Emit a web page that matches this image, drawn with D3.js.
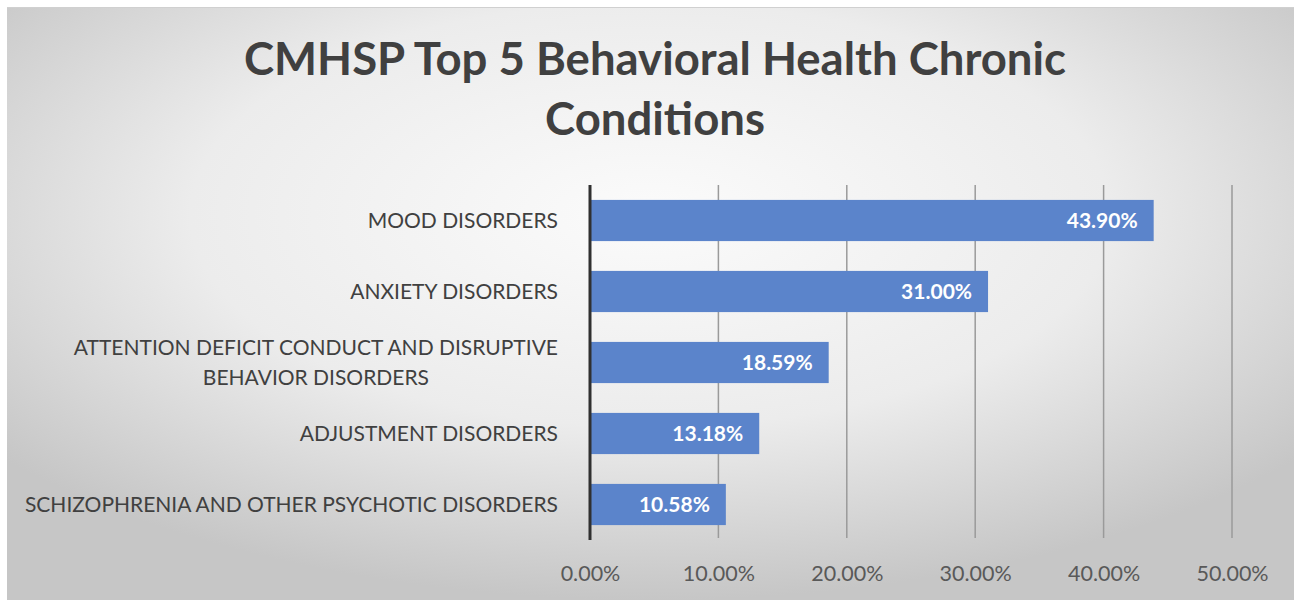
<!DOCTYPE html>
<html>
<head>
<meta charset="utf-8">
<script src="https://cdn.jsdelivr.net/npm/d3@7"></script>
<style>
  body { margin: 0; background: #fff; }
  text { font-family: Lato, "Open Sans", sans-serif; }
</style>
</head>
<body>
<div id="chart"></div>
<script>
// data
const titleLines = ["CMHSP Top 5 Behavioral Health Chronic", "Conditions"];
const categories = [
  ["MOOD DISORDERS"],
  ["ANXIETY DISORDERS"],
  ["ATTENTION DEFICIT CONDUCT AND DISRUPTIVE", "BEHAVIOR DISORDERS"],
  ["ADJUSTMENT DISORDERS"],
  ["SCHIZOPHRENIA AND OTHER PSYCHOTIC DISORDERS"]
];
const values = [0.439, 0.31, 0.1859, 0.1318, 0.1058];
const tickValues = [0, 0.1, 0.2, 0.3, 0.4, 0.5];

const width = 1294, height = 600;

const svg = d3.select("#chart").append("svg")
  .attr("width", width)
  .attr("height", height);

// radial background like the office chart
const defs = svg.append("defs");
const grad = defs.append("radialGradient")
  .attr("id", "bg")
  .attr("cx", "50%").attr("cy", "35%").attr("r", "65%");
grad.append("stop").attr("offset", "0%").attr("stop-color", "#fbfbfb");
grad.append("stop").attr("offset", "55%").attr("stop-color", "#ececec");
grad.append("stop").attr("offset", "100%").attr("stop-color", "#c6c6c6");

svg.append("rect")
  .attr("x", 7).attr("y", 7)
  .attr("width", width - 7).attr("height", height - 7)
  .attr("fill", "url(#bg)");
svg.append("line")
  .attr("x1", 7).attr("x2", width).attr("y1", 7.5).attr("y2", 7.5)
  .attr("stroke", "#d0d0d0");

// title
svg.append("g").selectAll("text")
  .data(titleLines)
  .join("text")
  .attr("x", 655)
  .attr("y", (d, i) => 75 + i * 60)
  .attr("text-anchor", "middle")
  .attr("fill", "#404040")
  .style("font-size", "45.5px")
  .style("font-weight", "bold")
  .text(d => d);

// scales
const x = d3.scaleLinear().domain([0, 0.5]).range([590, 1232]);
const y = d3.scaleBand()
  .domain(d3.range(categories.length))
  .range([185, 540])
  .paddingInner(0.42)
  .paddingOuter(0.21);

// gridlines
svg.append("g").selectAll("line")
  .data(tickValues.slice(1))
  .join("line")
  .attr("x1", d => x(d)).attr("x2", d => x(d))
  .attr("y1", 185).attr("y2", 538)
  .attr("stroke", "#9a9a9a")
  .attr("stroke-width", 1.5);

// bars
svg.append("g").selectAll("rect")
  .data(values)
  .join("rect")
  .attr("x", x(0))
  .attr("y", (d, i) => y(i))
  .attr("width", d => x(d) - x(0))
  .attr("height", y.bandwidth())
  .attr("fill", "#5b84cb");

// value labels
svg.append("g").selectAll("text")
  .data(values)
  .join("text")
  .attr("x", d => x(d) - 16)
  .attr("y", (d, i) => y(i) + y.bandwidth() / 2)
  .attr("dy", "0.35em")
  .attr("text-anchor", "end")
  .attr("fill", "#ffffff")
  .style("font-size", "21px")
  .style("font-weight", "bold")
  .text(d => d3.format(".2%")(d));

// zero axis line
svg.append("line")
  .attr("x1", x(0)).attr("x2", x(0))
  .attr("y1", 185).attr("y2", 540)
  .attr("stroke", "#303030")
  .attr("stroke-width", 3);

// category labels (multi-line ones are centred on each other, block right-aligned)
const catG = svg.append("g").selectAll("g")
  .data(categories)
  .join("g")
  .attr("transform", (d, i) => `translate(0,${y(i) + y.bandwidth() / 2})`);

catG.each(function(lines) {
  const g = d3.select(this);
  const n = lines.length;
  const texts = g.selectAll("text")
    .data(lines)
    .join("text")
    .attr("y", (d, i) => (i - (n - 1) / 2) * 30)
    .attr("dy", "0.35em")
    .attr("fill", "#404040")
    .style("font-size", "21px")
    .text(d => d);
  const widths = [];
  texts.each(function() { widths.push(this.getComputedTextLength()); });
  const maxW = d3.max(widths);
  const right = 558;
  texts.attr("x", right - maxW / 2).attr("text-anchor", "middle");
});

// x axis tick labels
const xAxis = d3.axisBottom(x)
  .tickValues(tickValues)
  .tickFormat(d3.format(".2%"))
  .tickSize(0)
  .tickPadding(0);
const ax = svg.append("g")
  .attr("transform", "translate(0,566)")
  .call(xAxis);
ax.select(".domain").remove();
ax.selectAll("text")
  .attr("fill", "#595959")
  .style("font-size", "21.5px")
  .style("font-family", "Lato, 'Open Sans', sans-serif");
</script>
</body>
</html>
